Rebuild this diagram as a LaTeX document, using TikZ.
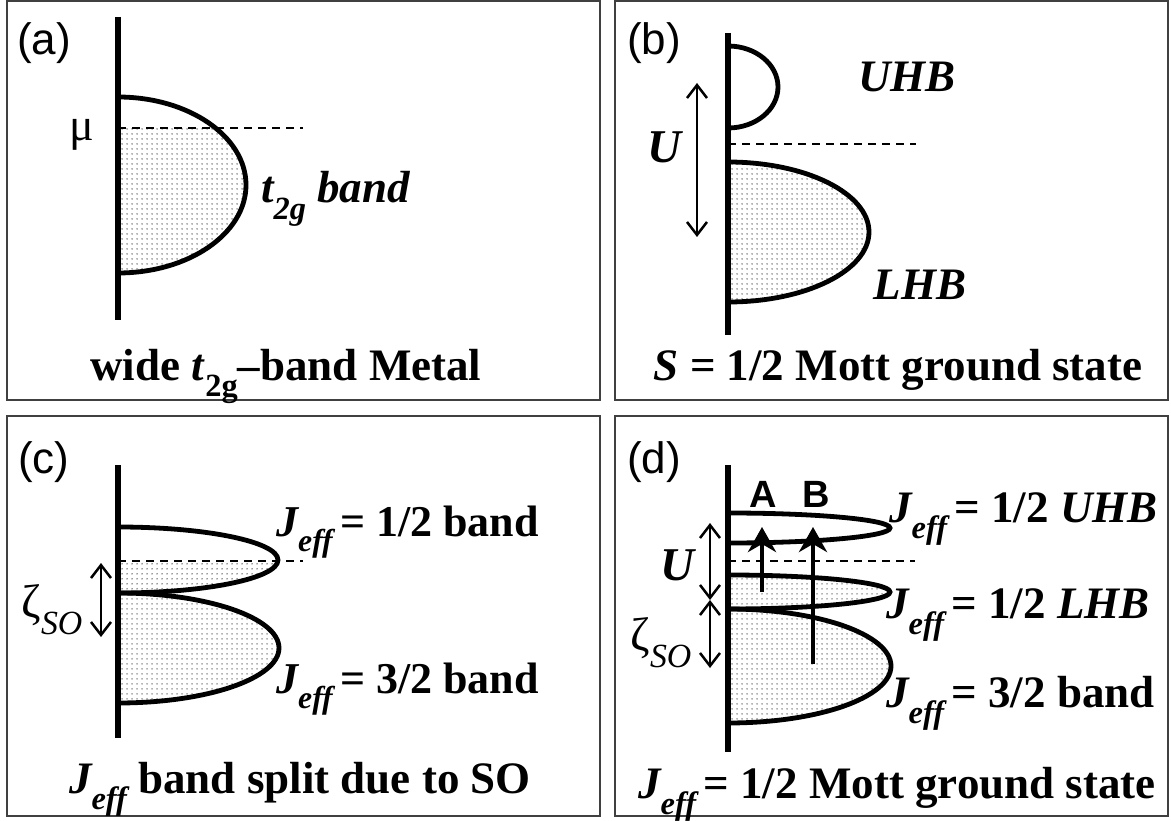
\documentclass[tikz,border=0pt]{standalone}
\usepackage{fontspec}
\usepackage{graphicx}
\setmainfont{Liberation Serif}
\setsansfont{Liberation Sans}
\usetikzlibrary{patterns.meta,arrows.meta}
\tikzdeclarepattern{name=dotfill,type=uncolored,bounding box={(0pt,0pt) and (5pt,5pt)},tile size={(5pt,5pt)},code={\fill (2.5pt,2.5pt) circle (0.9pt);}}
\newcommand\lowsub[1]{\raisebox{-0.36em}{\scalebox{0.72}{#1}}}
\newcommand\Jeff{{\bfseries\itshape J\lowsub{eff}}}
\newcommand\zso{ζ\lowsub{\itshape SO}}
\tikzset{
  frame/.style={draw=black!75, line width=1.7pt},
  axis/.style={line width=5.2pt},
  bandline/.style={line width=4.8pt},
  dotshade/.style={pattern=dotfill, pattern color=black!60},
  fermi/.style={line width=1.4pt, dash pattern=on 8pt off 6pt},
  dblarrow/.style={line width=2.5pt, {Straight Barb[length=13pt,width=20pt]}-{Straight Barb[length=13pt,width=20pt]}},
  excite/.style={line width=4.2pt, -{Stealth[length=25pt,width=28pt,inset=8pt]}},
  panellab/.style={font=\sffamily\fontsize{44}{50}\selectfont, inner sep=0pt},
  abl/.style={font=\sffamily\bfseries\fontsize{38}{42}\selectfont, inner sep=0pt},
  lab/.style={font=\fontsize{45}{52}\selectfont, inner sep=0pt},
  labc/.style={font=\fontsize{44}{50}\selectfont, inner sep=0pt},
  labd/.style={font=\fontsize{45}{50}\selectfont, inner sep=0pt},
  capt/.style={font=\bfseries\fontsize{45}{52}\selectfont, inner sep=0pt, anchor=base},
}
\newcommand\halfband[5]{%
  \begin{scope}
    \clip (#1,#2-#4-6) rectangle (#1+#3+6,#2+#4+6);
    \draw[bandline,#5] (#1,#2) ellipse [x radius=#3, y radius=#4];
  \end{scope}}
\newcommand\shadeband[5]{%
  \begin{scope}
    \clip (#1,#5) rectangle (#1+#3+6,#2+#4+6);
    \fill[dotshade] (#1,#2) ellipse [x radius=#3, y radius=#4];
  \end{scope}}
\begin{document}
\begin{tikzpicture}[x=1pt,y=-1pt]
\useasboundingbox (0,0) rectangle (1171,821);
\fill[white] (0,0) rectangle (1171,821);
% frames
\draw[frame] (7,1) rectangle (600,400);
\draw[frame] (615,1) rectangle (1168,400);
\draw[frame] (7,416) rectangle (600,816);
\draw[frame] (615,416) rectangle (1168,816);

% ---------- (a)
\node[panellab] (la) at (44,43) {(a)};
\shadeband{118}{185}{128}{88}{128}
\halfband{118}{185}{128}{88}{}
\draw[axis] (118,17) coordinate (aT) -- (118,320) coordinate (aB);
\coordinate (aF1) at (118,128); \coordinate (aF2) at (303,128);
\draw[fermi] (aF1) -- (aF2);
\node[font=\fontsize{46}{50}\selectfont, inner sep=0pt] (mu) at (82,135) {μ};
\node[lab, anchor=base west] (t2g) at (261,203) {\bfseries\itshape t\lowsub{2g} band};
\node[capt] (capa) at (286,380) {wide \textit{t}\lowsub{2g}–band Metal};

% ---------- (b)
\node[panellab] (lb) at (654,43) {(b)};
\halfband{728}{87}{50}{41}{}
\shadeband{728}{232}{141}{70}{150}
\halfband{728}{232}{141}{70}{}
\draw[axis] (728,33) coordinate (bT) -- (728,335) coordinate (bB);
\coordinate (bF1) at (728,144); \coordinate (bF2) at (916,144);
\draw[fermi] (bF1) -- (bF2);
\coordinate (bU1) at (697,83); \coordinate (bU2) at (697,237);
\draw[dblarrow] (bU1) -- (bU2);
\node[lab, font=\bfseries\itshape\fontsize{47}{50}\selectfont] (bUl) at (664,147) {U};
\node[lab, anchor=base] (uhb) at (907,92) {\bfseries\itshape UHB};
\node[lab, anchor=base] (lhb) at (920,300) {\bfseries\itshape LHB};
\node[capt] (capb) at (898,380) {\textit{S} = 1/2 Mott ground state};

% ---------- (c)
\node[panellab] (lc) at (44,462) {(c)};
\shadeband{118}{560}{160}{33}{561}
\halfband{118}{560}{160}{33}{}
\shadeband{118}{648}{161}{55}{590}
\halfband{118}{648}{161}{55}{}
\draw[axis] (118,465) coordinate (cT) -- (118,738) coordinate (cB);
\coordinate (cF1) at (118,561); \coordinate (cF2) at (303,561);
\draw[fermi] (cF1) -- (cF2);
\coordinate (cZ1) at (101,563); \coordinate (cZ2) at (101,637);
\draw[dblarrow] (cZ1) -- (cZ2);
\node[lab, font=\fontsize{47}{50}\selectfont] (czl) at (52,610) {\zso};
\node[labc, anchor=base west] (cj1) at (276,536) {\Jeff\,\bfseries = 1/2 band};
\node[labc, anchor=base west] (cj3) at (276,693) {\Jeff\,\bfseries = 3/2 band};
\node[capt] (capc) at (300,793) {\Jeff\ band split due to SO};

% ---------- (d)
\node[panellab] (ld) at (654,462) {(d)};
\halfband{728}{528}{162}{15}{}
\shadeband{728}{592}{162}{17}{570}
\halfband{728}{592}{162}{17}{}
\shadeband{728}{666}{163}{57}{606}
\halfband{728}{666}{163}{57}{}
\draw[axis] (728,465) coordinate (dT) -- (728,752) coordinate (dB);
\coordinate (dF1) at (728,561); \coordinate (dF2) at (915,561);
\draw[fermi] (dF1) -- (dF2);
\coordinate (dU1) at (710,523); \coordinate (dM) at (710,600); \coordinate (dZ2) at (710,668);
\draw[dblarrow] (dU1) -- (dM);
\draw[dblarrow] (dM) -- (dZ2);
\node[lab, font=\bfseries\itshape\fontsize{47}{50}\selectfont] (dUl) at (677,565) {U};
\node[lab, font=\fontsize{47}{50}\selectfont] (dzl) at (661,643) {\zso};
\coordinate (dA1) at (762,592); \coordinate (dA2) at (762,527);
\coordinate (dB1) at (813,664); \coordinate (dB2) at (813,527);
\draw[excite] (dA1) -- (dA2);
\draw[excite] (dB1) -- (dB2);
\node[abl] (Al) at (763,494) {A};
\node[abl] (Bl) at (816,494) {B};
\node[labd, anchor=base west] (dj1) at (889,522) {\Jeff\,\bfseries = 1/2 \itshape UHB};
\node[labd, anchor=base west] (dj2) at (886,618) {\Jeff\,\bfseries = 1/2 \itshape LHB};
\node[labd, anchor=base west] (dj3) at (886,707) {\Jeff\,\bfseries = 3/2 band};
\node[capt] (capd) at (897,798) {\Jeff\,= 1/2 Mott ground state};
\end{tikzpicture}
\end{document}
